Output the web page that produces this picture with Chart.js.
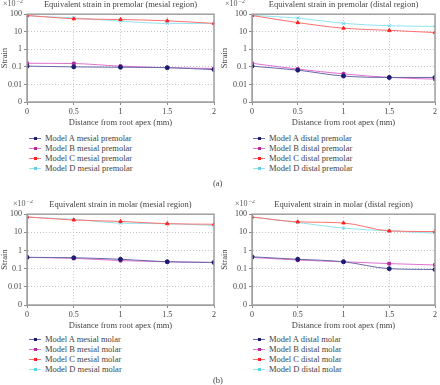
<!DOCTYPE html>
<html>
<head>
<meta charset="utf-8">
<script src="https://cdn.jsdelivr.net/npm/chart.js@4/dist/chart.umd.min.js"></script>
<style>
  body { margin: 0; background: #fff; width: 440px; height: 385px; position: relative; overflow: hidden; font-family: "Liberation Serif", "DejaVu Serif", "Times New Roman", serif; }
  .panel { position: absolute; }
  .legend { position: absolute; font-size: 8.5px; color: #444; }
  .legend div { height: 10px; line-height: 10px; display: flex; align-items: center; white-space: nowrap; }
  .sw { position: relative; width: 12px; height: 10px; margin-right: 4px; }
  .sw i { position: absolute; left: 0; right: 0; top: 5px; border-top: 1px solid; }
  .sw b { position: absolute; left: 4.5px; top: 4px; width: 3px; height: 3px; }
  .tag { position: absolute; font-size: 8.5px; color: #444; }
</style>
</head>
<body>
<canvas id="c1" class="panel" style="left:0;top:0"></canvas>
<canvas id="c2" class="panel" style="left:220px;top:0"></canvas>
<canvas id="c3" class="panel" style="left:0;top:200px"></canvas>
<canvas id="c4" class="panel" style="left:220px;top:200px"></canvas>
<div id="l1" class="legend" style="left:29px;top:133px"></div>
<div id="l2" class="legend" style="left:253px;top:133px"></div>
<div id="l3" class="legend" style="left:29px;top:334px"></div>
<div id="l4" class="legend" style="left:253px;top:334px"></div>
<div class="tag" style="left:213px;top:178px">(a)</div>
<div class="tag" style="left:213px;top:375px">(b)</div>
<script>
// datos (en unidades de x10^-2)
const distance = [0, 0.5, 1, 1.5, 2];
const xTickLabels = ['0', '0.5', '1', '1.5', '2'];
const yTickValues = [0.001, 0.01, 0.1, 1, 10, 100];
const yTickLabels = ['0', '0.01', '0.1', '1', '10', '100'];
const modelNames = ['Model A', 'Model B', 'Model C', 'Model D'];

const premolarMesialA = [0.11, 0.10, 0.095, 0.09, 0.07];
const premolarMesialB = [0.16, 0.155, 0.11, 0.09, 0.08];
const premolarMesialC = [85, 55, 50, 42, 30];
const premolarMesialD = [80, 62, 40, 30, 30];

const premolarDistalA = [0.11, 0.065, 0.03, 0.025, 0.025];
const premolarDistalB = [0.16, 0.075, 0.04, 0.025, 0.02];
const premolarDistalC = [85, 33, 16, 12, 9];
const premolarDistalD = [85, 60, 30, 22, 20];

const molarMesialA = [0.42, 0.40, 0.33, 0.24, 0.22];
const molarMesialB = [0.42, 0.37, 0.28, 0.24, 0.22];
const molarMesialC = [70, 48, 40, 30, 28];
const molarMesialD = [70, 52, 32, 30, 24];

const molarDistalA = [0.45, 0.33, 0.24, 0.10, 0.09];
const molarDistalB = [0.42, 0.30, 0.24, 0.19, 0.16];
const molarDistalC = [70, 38, 33, 12, 11];
const molarDistalD = [70, 35, 17, 12, 9];

// estilos de cada modelo
const lineColors = ['#6868a8', '#e070d0', '#ff7070', '#90e4f0'];
const markerColors = ['#1c1c70', '#b02c9c', '#ff2020', '#60d0e8'];
const pointStyles = ['circle', 'rect', 'triangle', 'crossRot'];
const serif = '"Liberation Serif", "DejaVu Serif", "Times New Roman", serif';

// marco gris y etiqueta x10^-2
const frame = {
    id: 'frame',
    afterDraw(chart, args, opts) {
        const { ctx, chartArea: a } = chart;
        ctx.save();
        ctx.strokeStyle = '#a0a0a0';
        ctx.lineWidth = 1.5;
        ctx.strokeRect(a.left, a.top, a.right - a.left, a.bottom - a.top);
        ctx.fillStyle = '#555';
        ctx.font = '8px ' + serif;
        ctx.textBaseline = 'middle';
        const x = a.left - opts.dx, y = a.top - 10;
        ctx.fillText('\u00d710', x, y);
        const w = ctx.measureText('\u00d710').width;
        ctx.font = '6px ' + serif;
        ctx.fillText('\u22122', x + w + 1, y - 3);
        ctx.restore();
    }
};

function renderPanel(canvasId, legendId, title, suffix, series, opt) {
    const canvas = document.getElementById(canvasId);
    canvas.width = 220;
    canvas.height = opt.height;
    canvas.style.width = '220px';
    canvas.style.height = opt.height + 'px';

    const datasets = series.map((vals, i) => ({
        label: modelNames[i] + ' ' + suffix,
        data: distance.map((x, j) => ({ x: x, y: vals[j] })),
        borderColor: lineColors[i],
        backgroundColor: markerColors[i],
        pointBackgroundColor: markerColors[i],
        pointBorderColor: markerColors[i],
        pointStyle: pointStyles[i],
        pointRadius: 2,
        pointBorderWidth: 1,
        borderWidth: 1,
        cubicInterpolationMode: 'monotone',
    }));

    new Chart(canvas.getContext('2d'), {
        type: 'line',
        data: { datasets },
        options: {
            responsive: false,
            animation: false,
            layout: { padding: { left: 0, right: opt.right, top: 0, bottom: 0 } },
            plugins: {
                legend: { display: false },
                tooltip: { enabled: false },
                title: {
                    display: true,
                    text: title,
                    fullSize: false,
                    color: '#444',
                    font: { family: serif, size: 8.5, weight: 'normal' },
                    padding: { top: 0, bottom: 4 },
                },
                frame: { dx: opt.dx },
            },
            scales: {
                x: {
                    type: 'linear',
                    min: 0,
                    max: 2,
                    afterBuildTicks: (s) => { s.ticks = distance.map((v) => ({ value: v })); },
                    ticks: {
                        color: '#444',
                        padding: 2,
                        font: { family: serif, size: 8 },
                        callback: (v) => xTickLabels[distance.indexOf(v)],
                    },
                    grid: { color: '#c4c4c4', tickLength: 3, tickColor: '#888' },
                    border: { dash: [1, 2], color: '#a0a0a0' },
                    title: {
                        display: true,
                        text: 'Distance from root apex (mm)',
                        color: '#444',
                        font: { family: serif, size: 8.5 },
                        padding: { top: 3, bottom: 2 },
                    },
                    afterFit: (s) => { s.height = 28; },
                },
                y: {
                    type: 'logarithmic',
                    min: 0.001,
                    max: 100,
                    afterBuildTicks: (s) => { s.ticks = yTickValues.map((v) => ({ value: v })); },
                    ticks: {
                        color: '#444',
                        padding: 2,
                        font: { family: serif, size: 8 },
                        callback: (v) => yTickLabels[yTickValues.indexOf(v)],
                    },
                    grid: { color: '#c4c4c4', tickLength: 3, tickColor: '#888' },
                    border: { dash: [1, 2], color: '#a0a0a0' },
                    title: {
                        display: true,
                        text: 'Strain',
                        color: '#444',
                        font: { family: serif, size: 8.5 },
                        padding: { top: 0, bottom: 0 },
                    },
                    afterFit: (s) => { s.width = opt.yWidth; },
                },
            },
        },
        plugins: [frame],
    });

    // leyenda vertical
    const legend = document.getElementById(legendId);
    datasets.forEach((d, i) => {
        const row = document.createElement('div');
        row.innerHTML = `<span class="sw"><i style="border-color:${lineColors[i]}"></i><b style="background:${markerColors[i]}"></b></span>${d.label}`;
        legend.appendChild(row);
    });
}

renderPanel('c1', 'l1', 'Equivalent strain in premolar (mesial region)', 'mesial premolar',
    [premolarMesialA, premolarMesialB, premolarMesialC, premolarMesialD],
    { height: 130, right: 6, yWidth: 27, dx: 24 });
renderPanel('c2', 'l2', 'Equivalent strain in premolar (distal region)', 'distal premolar',
    [premolarDistalA, premolarDistalB, premolarDistalC, premolarDistalD],
    { height: 130, right: 3, yWidth: 32, dx: 27 });
renderPanel('c3', 'l3', 'Equivalent strain in molar (mesial region)', 'mesial molar',
    [molarMesialA, molarMesialB, molarMesialC, molarMesialD],
    { height: 133, right: 6, yWidth: 27, dx: 14 });
renderPanel('c4', 'l4', 'Equivalent strain in molar (distal region)', 'distal molar',
    [molarDistalA, molarDistalB, molarDistalC, molarDistalD],
    { height: 133, right: 3, yWidth: 32, dx: 17 });
</script>
</body>
</html>
